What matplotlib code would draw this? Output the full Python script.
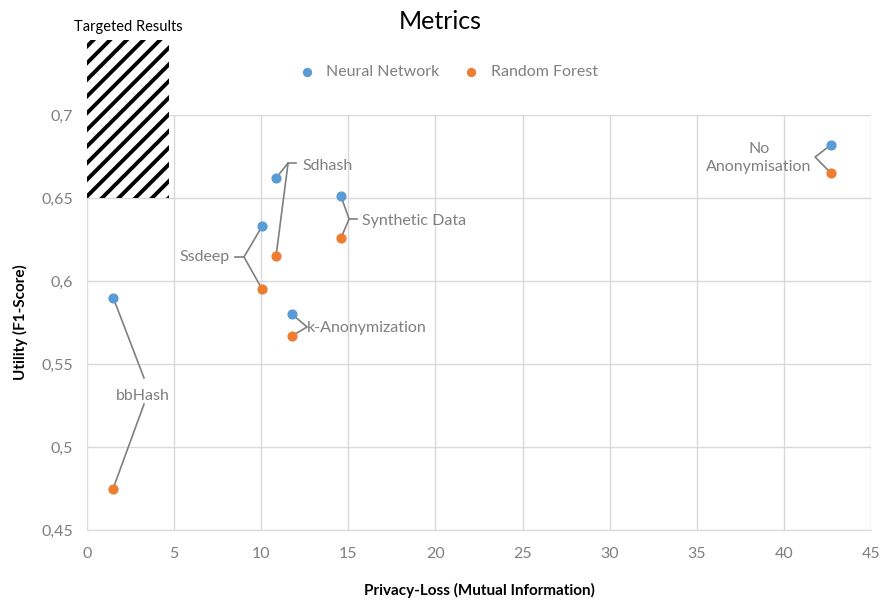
import matplotlib.pyplot as plt
from matplotlib.patches import Rectangle

plt.rcParams['font.family'] = ['Lato', 'DejaVu Sans']
plt.rcParams['hatch.linewidth'] = 2.8

# data
methods = ['bbHash', 'Ssdeep', 'Sdhash', 'Synthetic Data', 'k-Anonymization', 'No\nAnonymisation']
privacy_loss = [1.5, 10.05, 10.85, 14.58, 11.77, 42.7]
nn_f1 = [0.590, 0.633, 0.662, 0.651, 0.580, 0.682]
rf_f1 = [0.475, 0.595, 0.615, 0.626, 0.567, 0.665]
x_ticks = [0, 5, 10, 15, 20, 25, 30, 35, 40, 45]
y_ticks = [0.45, 0.5, 0.55, 0.6, 0.65, 0.7]
y_tick_labels = ['0,45', '0,5', '0,55', '0,6', '0,65', '0,7']

blue = '#5B9BD5'
orange = '#ED7D31'
grey_txt = '#7F7F7F'
line_c = '#7F7F7F'

fig = plt.figure(figsize=(8.8, 6.04), dpi=100)
ax = fig.add_axes([0.0989, 0.1225, 0.8909, 0.6871])

ax.set_xlim(0, 45)
ax.set_ylim(0.45, 0.7)
ax.set_xticks(x_ticks)
ax.set_yticks(y_ticks)
ax.set_yticklabels(y_tick_labels)
ax.grid(True, color='#D9D9D9', linewidth=1)
ax.set_axisbelow(True)
for s in ['top', 'right', 'left']:
    ax.spines[s].set_visible(False)
ax.spines['bottom'].set_color('#D9D9D9')
ax.tick_params(length=0, colors=grey_txt, labelsize=11.5, pad=10)
ax.tick_params(axis='x', pad=12)

# targeted region
ax.add_patch(Rectangle((0, 0.65), 4.72, 0.095, facecolor='white', edgecolor='black',
                       hatch='//', linewidth=0, clip_on=False, zorder=1))
ax.text(2.35, 0.753, 'Targeted Results', ha='center', va='center', fontsize=10.5, color='black')

ax.scatter(privacy_loss, nn_f1, s=40, color=blue, zorder=4, label='Neural Network')
ax.scatter(privacy_loss, rf_f1, s=40, color=orange, zorder=4, label='Random Forest')

# label anchors (branch point, text position, alignment)
lab = {
    'bbHash': dict(text=(3.22, 0.531), ha='center'),
    'Ssdeep': dict(br=(9.01, 0.6145), h=(8.50, 0.6145), text=(8.2, 0.6145), ha='right'),
    'Sdhash': dict(br=(11.54, 0.6711), h=(12.0, 0.6711), text=(12.35, 0.669), ha='left'),
    'Synthetic Data': dict(br=(15.04, 0.6373), h=(15.5, 0.6373), text=(15.8, 0.636), ha='left'),
    'k-Anonymization': dict(br=(12.63, 0.5723), text=(12.6, 0.5715), ha='left'),
    'No\nAnonymisation': dict(br=(41.79, 0.6747), text=(38.55, 0.674), ha='center'),
}
for m, x, a, b in zip(methods, privacy_loss, nn_f1, rf_f1):
    d = lab[m]
    if m == 'bbHash':
        ax.plot([x, 3.27], [a, 0.5416], color=line_c, lw=1.2, zorder=3)
        ax.plot([x, 3.27], [b, 0.5258], color=line_c, lw=1.2, zorder=3)
    else:
        bx, by = d['br']
        ax.plot([x, bx, x], [a, by, b], color=line_c, lw=1.2, zorder=3)
        if 'h' in d:
            ax.plot([bx, d['h'][0]], [by, d['h'][1]], color=line_c, lw=1.2, zorder=3)
    ax.text(d['text'][0], d['text'][1], m, ha=d['ha'], va='center', fontsize=11.5,
            color=grey_txt, linespacing=1.35, zorder=5)

ax.set_xlabel('Privacy-Loss (Mutual Information)', fontsize=11, fontweight='bold', labelpad=16)
ax.set_ylabel('Utility (F1-Score)', fontsize=11, fontweight='bold', labelpad=10)

fig.text(0.5, 0.965, 'Metrics', ha='center', va='center', fontsize=18, color='black')
fig.legend(loc='center', bbox_to_anchor=(0.505, 0.881), ncol=2, frameon=False,
           fontsize=11.5, labelcolor=grey_txt, handletextpad=0.2, columnspacing=1.0,
           markerscale=0.9)

fig.savefig('out.png', dpi=100)
